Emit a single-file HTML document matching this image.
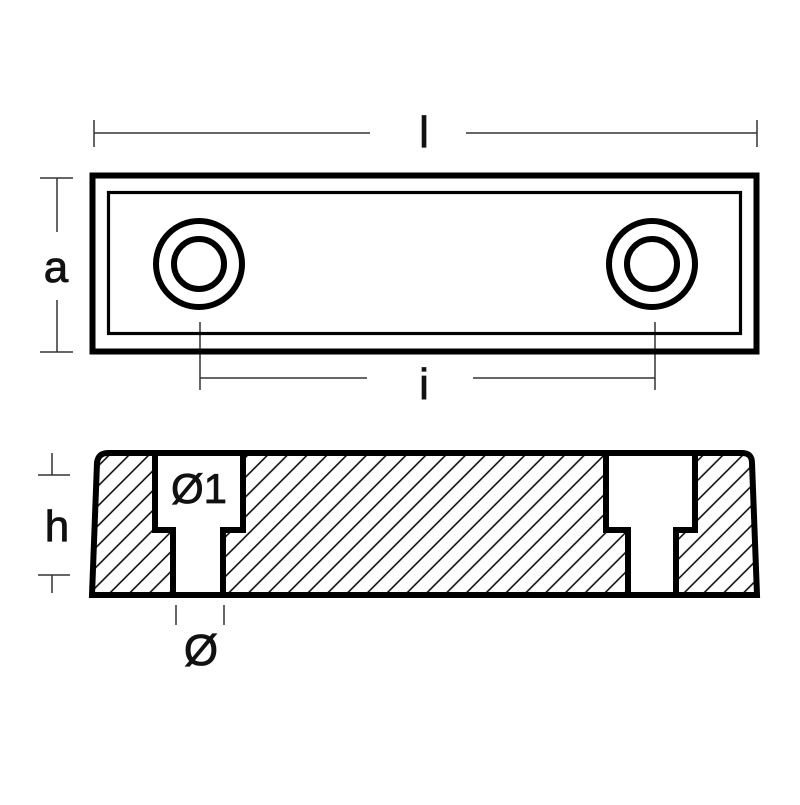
<!DOCTYPE html>
<html><head><style>body{margin:0;background:#fff}</style></head><body>
<svg width="800" height="800" viewBox="0 0 800 800" xmlns="http://www.w3.org/2000/svg" font-family="Liberation Sans, sans-serif">
<defs>
<pattern id="h" patternUnits="userSpaceOnUse" width="14" height="14" patternTransform="rotate(45)">
<line x1="7" y1="0" x2="7" y2="14" stroke="#000" stroke-width="1.5"/>
</pattern>
</defs>
<rect width="800" height="800" fill="#fff"/>
<g stroke="#333" stroke-width="1.5" fill="none">
<line x1="94" y1="133" x2="370" y2="133"/><line x1="466" y1="133" x2="757" y2="133"/>
<line x1="94" y1="120" x2="94" y2="147"/><line x1="757" y1="120" x2="757" y2="147"/>
<line x1="40" y1="178" x2="73" y2="178"/><line x1="40" y1="352" x2="73" y2="352"/>
<line x1="57" y1="178" x2="57" y2="232"/><line x1="57" y1="300" x2="57" y2="352"/>
<line x1="200" y1="322" x2="200" y2="390"/><line x1="655" y1="322" x2="655" y2="390"/>
<line x1="200" y1="378" x2="367" y2="378"/><line x1="473" y1="378" x2="655" y2="378"/>
<line x1="38" y1="475" x2="70" y2="475"/><line x1="38" y1="575" x2="70" y2="575"/>
<line x1="52" y1="453" x2="52" y2="475"/><line x1="52" y1="575" x2="52" y2="593"/>
<line x1="176" y1="605" x2="176" y2="625"/><line x1="224" y1="605" x2="224" y2="625"/>
</g>
<g font-size="44" text-anchor="middle" fill="#111" stroke="#111" stroke-width="0.8">
<text x="424" y="147">l</text>
<text x="56" y="282">a</text>
<text x="424" y="399">i</text>
<text x="57" y="541">h</text>
<text x="201" y="665">Ø</text>
<text x="199" y="503" font-size="42">Ø1</text>
</g>
<rect x="92.5" y="175.5" width="664" height="176" fill="none" stroke="#000" stroke-width="6"/>
<rect x="108.5" y="192.5" width="632" height="141" fill="none" stroke="#000" stroke-width="3.2"/>
<g fill="none" stroke="#000" stroke-width="6">
<circle cx="199" cy="264" r="43"/><circle cx="199" cy="264" r="25"/>
<circle cx="652" cy="264" r="43"/><circle cx="652" cy="264" r="25"/>
</g>
<path d="M92,595 L97,463 Q98,453 108,453 L742,453 Q752,453 752,463 L757,595 Z M155,453 L155,530 L173,530 L173,595 L223,595 L223,530 L243,530 L243,453 Z M606,453 L606,530 L628,530 L628,595 L676,595 L676,530 L695,530 L695,453 Z" fill="url(#h)" fill-rule="evenodd"/>
<g fill="none" stroke="#000" stroke-width="6" stroke-linejoin="miter">
<path d="M92,595 L97,463 Q98,453 108,453 L742,453 Q752,453 752,463 L757,595 Z"/>
<path d="M155,453 L155,530 L173,530 L173,595 M223,595 L223,530 L243,530 L243,453"/>
<path d="M606,453 L606,530 L628,530 L628,595 M676,595 L676,530 L695,530 L695,453"/>
</g>
</svg>
</body></html>
